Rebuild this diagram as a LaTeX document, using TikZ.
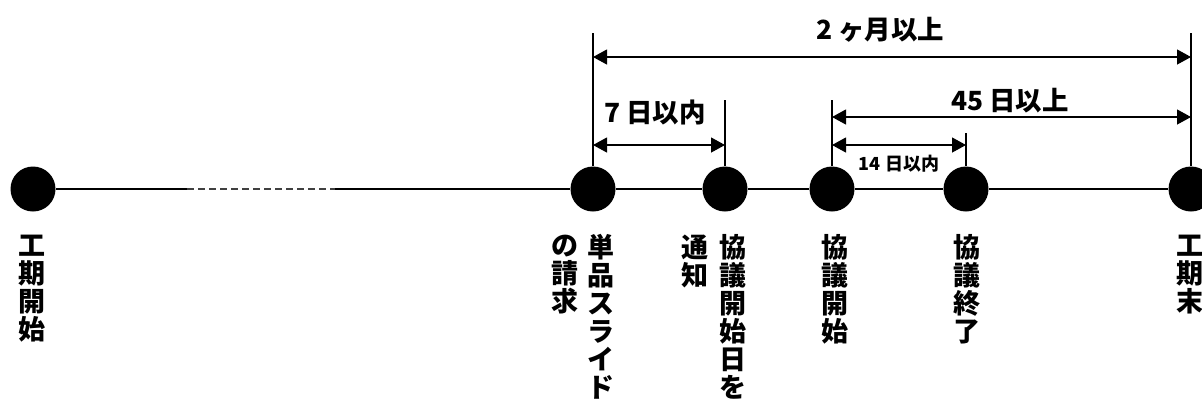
\documentclass[tikz,border=0pt]{standalone}
\usepackage{fontspec}
\newfontfamily\jp{Noto Sans CJK JP}
\usetikzlibrary{arrows.meta,positioning}

\begin{document}
\begin{tikzpicture}[
  x=0.5pt, y=-0.5pt,
  dot/.style={circle, fill=black, inner sep=0pt, minimum size=22.5pt},
  vlbl/.style={anchor=north, inner sep=0pt, align=center,
               font=\jp\bfseries\fontsize{13.5}{14}\selectfont},
  lbl/.style={inner sep=0pt, font=\jp\bfseries\fontsize{13.2}{13.2}\selectfont},
  dim/.style={{Triangle[length=7pt,width=7.5pt]}-{Triangle[length=7pt,width=7.5pt]},
              line width=0.6pt},
  line width=0.65pt
]
  \useasboundingbox (0,0) rectangle (1202,404);

  % time points
  \node[dot] (c1) at (33,189)   {};
  \node[dot] (c2) at (593,189)  {};
  \node[dot] (c3) at (725,189)  {};
  \node[dot] (c4) at (832,189)  {};
  \node[dot] (c5) at (966,189)  {};
  \node[dot] (c6) at (1191,189) {};
  \coordinate (d1) at (187,189);
  \coordinate (d2) at (335,189);

  \draw (c1) -- (d1);
  \draw[dashed, dash pattern=on 3.5pt off 2pt, black!75] (d1) -- (d2);
  \draw (d2) -- (c2);
  \draw (c2) -- (c3);
  \draw (c3) -- (c4);
  \draw (c4) -- (c5);
  \draw (c5) -- (c6);

  % extension lines
  \coordinate (t2) at (c2 |- 0,33);
  \coordinate (t3) at (c3 |- 0,100);
  \coordinate (t4) at (c4 |- 0,100);
  \coordinate (t5) at (c5 |- 0,133);
  \coordinate (t6) at (c6 |- 0,33);
  \draw[line width=0.6pt] (c2) -- (t2);
  \draw[line width=0.6pt] (c3) -- (t3);
  \draw[line width=0.6pt] (c4) -- (t4);
  \draw[line width=0.6pt] (c5) -- (t5);
  \draw[line width=0.6pt] (c6) -- (t6);

  % spans
  \draw[dim] (c2 |- 0,57)  -- (c6 |- 0,57);
  \draw[dim] (c2 |- 0,145) -- (c3 |- 0,145);
  \draw[dim] (c4 |- 0,117) -- (c6 |- 0,117);
  \draw[dim] (c4 |- 0,145) -- (c5 |- 0,145);
  \node[lbl] (m1) at (880,30)  {2 ヶ月以上};
  \node[lbl] (m2) at (655,112) {7 日以内};
  \node[lbl] (m3) at (1010,101) {45 日以上};
  \node[lbl, font=\jp\bfseries\fontsize{9}{9}\selectfont] (m4) at (899,164) {14 日以内};

  % vertical captions
  \node[vlbl] (v1)  at (32,234)   {工\\期\\開\\始};
  \node[vlbl] (v2a) at (601,234)  {単\\品\\ス\\ラ\\イ\\ド};
  \node[vlbl] (v2b) at (565,234)  {の\\請\\求};
  \node[vlbl] (v3a) at (733,234)  {協\\議\\開\\始\\日\\を};
  \node[vlbl] (v3b) at (695,234)  {通\\知};
  \node[vlbl] (v4)  at (835,234)  {協\\議\\開\\始};
  \node[vlbl] (v5)  at (967,234)  {協\\議\\終\\了};
  \node[vlbl] (v6)  at (1190,234) {工\\期\\末};
\end{tikzpicture}
\end{document}
